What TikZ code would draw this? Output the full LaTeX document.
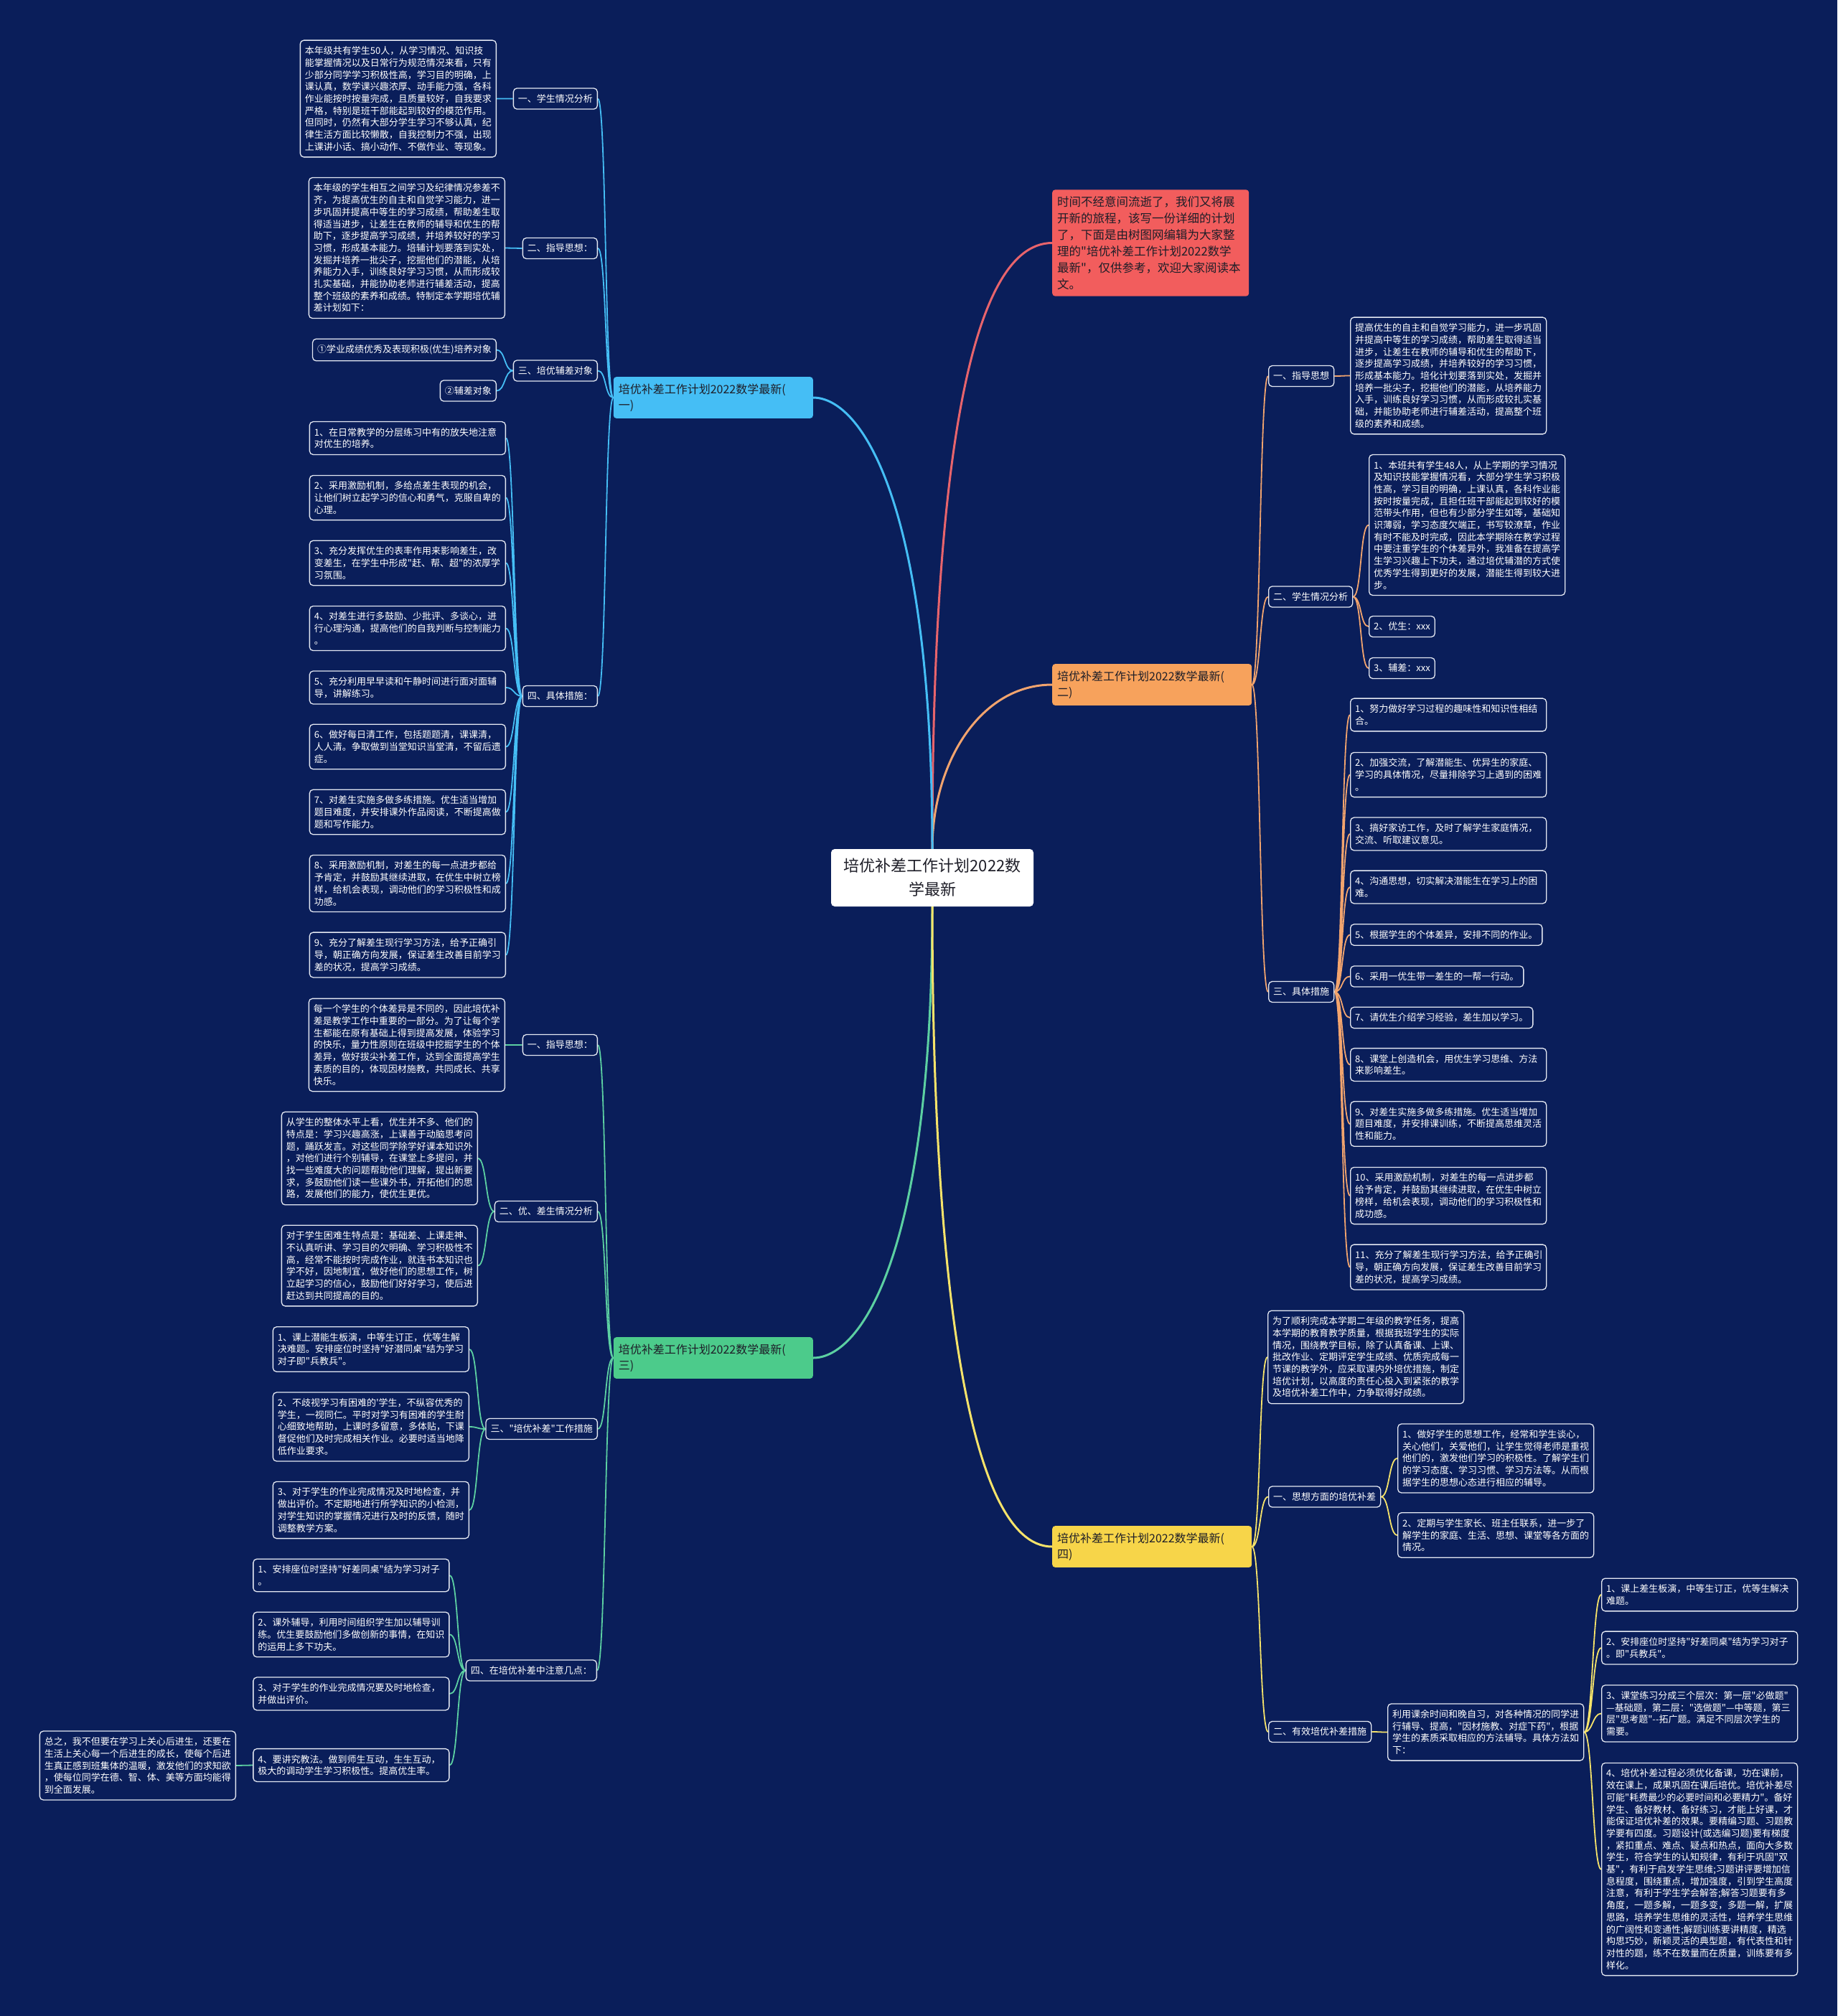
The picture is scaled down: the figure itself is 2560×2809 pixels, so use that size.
\documentclass[tikz,border=0pt]{standalone}
\usepackage{fontspec}
\newfontfamily\cjk{Noto Sans CJK SC}
\usetikzlibrary{backgrounds}
\definecolor{bgnavy}{HTML}{0A1E5A}
\definecolor{edge}{HTML}{E4E8F2}
\definecolor{ink}{HTML}{1E1E28}
\definecolor{cblue}{HTML}{45BEF5}
\definecolor{cred}{HTML}{F25D5D}
\definecolor{lred}{HTML}{E8646C}
\definecolor{corange}{HTML}{F7A25C}
\definecolor{lorange}{HTML}{F2A46E}
\definecolor{cgreen}{HTML}{4CCB8B}
\definecolor{lgreen}{HTML}{5CD0A2}
\definecolor{cyellow}{HTML}{F7D549}
\definecolor{lyellow}{HTML}{F6E36A}
\tikzset{
    tagbox/.style={
        draw=edge, fill=bgnavy, text=white,
        rounded corners=5pt, line width=1.3pt,
        inner xsep=6.5pt, inner ysep=8.5pt,
        font=\cjk\fontsize{13}{16.7}\selectfont,
        align=left
    },
    leafbox/.style={tagbox, text width=#1},
    leafbox/.default=260pt,
    branchbox/.style={
        fill=#1, text=ink,
        rounded corners=4pt,
        inner xsep=7pt, inner ysep=9.5pt,
        text width=264pt,
        font=\cjk\fontsize{16}{22}\selectfont,
        align=left
    },
    notebox/.style={
        fill=cred, text=ink,
        rounded corners=4pt,
        inner xsep=7pt, inner ysep=9pt,
        text width=260pt,
        font=\cjk\fontsize{16.5}{23}\selectfont,
        align=left
    },
    rootbox/.style={
        fill=white, text=ink,
        rounded corners=5pt,
        minimum width=282pt, minimum height=80pt,
        font=\cjk\fontsize{22}{33}\selectfont,
        align=center
    },
    trunk/.style={draw=#1, line width=3pt},
    twig/.style={draw=#1, line width=1.8pt},
    lnkL/.style={to path={.. controls +(-12,0) and +(12,0) .. (\tikztotarget)}},
    lnkR/.style={to path={.. controls +(12,0) and +(-12,0) .. (\tikztotarget)}}
}
\begin{document}
\begin{tikzpicture}[x=1pt, y=-1pt]
\useasboundingbox (0,0) rectangle (2560,2809);
\begin{scope}[on background layer]
\fill[bgnavy] (0,0) rectangle (2560,2809);
\end{scope}

% centre, intro and the four parts
\node[rootbox] (root) at (1299,1223) {培优补差工作计划2022数\\学最新};
\node[notebox, anchor=west] (intro) at (1466,338.5) {时间不经意间流逝了，我们又将展\\开新的旅程，该写一份详细的计划\\了，下面是由树图网编辑为大家整\\理的"培优补差工作计划2022数学\\最新"，仅供参考，欢迎大家阅读本\\文。};
\node[branchbox=cblue, anchor=east] (p1) at (1133,554) {培优补差工作计划2022数学最新(\\一)};
\node[branchbox=corange, anchor=west] (p2) at (1466,954) {培优补差工作计划2022数学最新(\\二)};
\node[branchbox=cgreen, anchor=east] (p3) at (1133,1892) {培优补差工作计划2022数学最新(\\三)};
\node[branchbox=cyellow, anchor=west] (p4) at (1466,2155) {培优补差工作计划2022数学最新(\\四)};

% part one
\node[tagbox, anchor=east] (p1a) at (833,137.5) {一、学生情况分析};
\node[leafbox, anchor=east] (p1a1) at (692,137.5) {本年级共有学生50人，从学习情况、知识技\\能掌握情况以及日常行为规范情况来看，只有\\少部分同学学习积极性高，学习目的明确，上\\课认真，数学课兴趣浓厚、动手能力强，各科\\作业能按时按量完成，且质量较好，自我要求\\严格，特别是班干部能起到较好的模范作用。\\但同时，仍然有大部分学生学习不够认真，纪\\律生活方面比较懒散，自我控制力不强，出现\\上课讲小话、搞小动作、不做作业、等现象。};
\node[tagbox, anchor=east] (p1b) at (833,346) {二、指导思想：};
\node[leafbox, anchor=east] (p1b1) at (704,345.5) {本年级的学生相互之间学习及纪律情况参差不\\齐，为提高优生的自主和自觉学习能力，进一\\步巩固并提高中等生的学习成绩，帮助差生取\\得适当进步，让差生在教师的辅导和优生的帮\\助下，逐步提高学习成绩，并培养较好的学习\\习惯，形成基本能力。培辅计划要落到实处，\\发掘并培养一批尖子，挖掘他们的潜能，从培\\养能力入手，训练良好学习习惯，从而形成较\\扎实基础，并能协助老师进行辅差活动，提高\\整个班级的素养和成绩。特制定本学期培优辅\\差计划如下：};
\node[tagbox, anchor=east] (p1c) at (833,516.5) {三、培优辅差对象};
\node[tagbox, anchor=east] (p1c1) at (692,487.5) {①学业成绩优秀及表现积极(优生)培养对象};
\node[tagbox, anchor=east] (p1c2) at (692,544.5) {②辅差对象};
\node[tagbox, anchor=east] (p1d) at (833,970) {四、具体措施：};
\node[leafbox, anchor=east] (p1d1) at (705,610.5) {1、在日常教学的分层练习中有的放失地注意\\对优生的培养。};
\node[leafbox, anchor=east] (p1d2) at (705,693.5) {2、采用激励机制，多给点差生表现的机会，\\让他们树立起学习的信心和勇气，克服自卑的\\心理。};
\node[leafbox, anchor=east] (p1d3) at (705,784.5) {3、充分发挥优生的表率作用来影响差生，改\\变差生，在学生中形成"赶、帮、超"的浓厚学\\习氛围。};
\node[leafbox, anchor=east] (p1d4) at (705,875.5) {4、对差生进行多鼓励、少批评、多谈心，进\\行心理沟通，提高他们的自我判断与控制能力\\。};
\node[leafbox, anchor=east] (p1d5) at (705,958) {5、充分利用早早读和午静时间进行面对面辅\\导，讲解练习。};
\node[leafbox, anchor=east] (p1d6) at (705,1040.5) {6、做好每日清工作，包括题题清，课课清，\\人人清。争取做到当堂知识当堂清，不留后遗\\症。};
\node[leafbox, anchor=east] (p1d7) at (705,1131.5) {7、对差生实施多做多练措施。优生适当增加\\题目难度，并安排课外作品阅读，不断提高做\\题和写作能力。};
\node[leafbox, anchor=east] (p1d8) at (705,1231) {8、采用激励机制，对差生的每一点进步都给\\予肯定，并鼓励其继续进取，在优生中树立榜\\样，给机会表现，调动他们的学习积极性和成\\功感。};
\node[leafbox, anchor=east] (p1d9) at (705,1330.5) {9、充分了解差生现行学习方法，给予正确引\\导，朝正确方向发展，保证差生改善目前学习\\差的状况，提高学习成绩。};

% part two
\node[tagbox, anchor=west] (p2a) at (1767,524) {一、指导思想};
\node[leafbox, anchor=west] (p2a1) at (1881,523.5) {提高优生的自主和自觉学习能力，进一步巩固\\并提高中等生的学习成绩，帮助差生取得适当\\进步，让差生在教师的辅导和优生的帮助下，\\逐步提高学习成绩，并培养较好的学习习惯，\\形成基本能力。培化计划要落到实处，发掘并\\培养一批尖子，挖掘他们的潜能，从培养能力\\入手，训练良好学习习惯，从而形成较扎实基\\础，并能协助老师进行辅差活动，提高整个班\\级的素养和成绩。};
\node[tagbox, anchor=west] (p2b) at (1767,831.5) {二、学生情况分析};
\node[leafbox, anchor=west] (p2b1) at (1907,731.5) {1、本班共有学生48人，从上学期的学习情况\\及知识技能掌握情况看，大部分学生学习积极\\性高，学习目的明确，上课认真，各科作业能\\按时按量完成，且担任班干部能起到较好的模\\范带头作用，但也有少部分学生如等，基础知\\识薄弱，学习态度欠端正，书写较潦草，作业\\有时不能及时完成，因此本学期除在教学过程\\中要注重学生的个体差异外，我准备在提高学\\生学习兴趣上下功夫，通过培优辅潜的方式使\\优秀学生得到更好的发展，潜能生得到较大进\\步。};
\node[tagbox, anchor=west] (p2b2) at (1907,873) {2、优生：xxx};
\node[tagbox, anchor=west] (p2b3) at (1907,931) {3、辅差：xxx};
\node[tagbox, anchor=west] (p2c) at (1767,1382) {三、具体措施};
\node[leafbox, anchor=west] (p2c1) at (1881,996) {1、努力做好学习过程的趣味性和知识性相结\\合。};
\node[leafbox, anchor=west] (p2c2) at (1881,1079.5) {2、加强交流，了解潜能生、优异生的家庭、\\学习的具体情况，尽量排除学习上遇到的困难\\。};
\node[leafbox, anchor=west] (p2c3) at (1881,1162) {3、搞好家访工作，及时了解学生家庭情况，\\交流、听取建议意见。};
\node[leafbox, anchor=west] (p2c4) at (1881,1236) {4、沟通思想，切实解决潜能生在学习上的困\\难。};
\node[tagbox, anchor=west] (p2c5) at (1881,1302.5) {5、根据学生的个体差异，安排不同的作业。};
\node[tagbox, anchor=west] (p2c6) at (1881,1360.5) {6、采用一优生带一差生的一帮一行动。};
\node[tagbox, anchor=west] (p2c7) at (1881,1418) {7、请优生介绍学习经验，差生加以学习。};
\node[leafbox, anchor=west] (p2c8) at (1881,1483.5) {8、课堂上创造机会，用优生学习思维、方法\\来影响差生。};
\node[leafbox, anchor=west] (p2c9) at (1881,1566) {9、对差生实施多做多练措施。优生适当增加\\题目难度，并安排课训练，不断提高思维灵活\\性和能力。};
\node[leafbox, anchor=west] (p2c10) at (1881,1666) {10、采用激励机制，对差生的每一点进步都\\给予肯定，并鼓励其继续进取，在优生中树立\\榜样，给机会表现，调动他们的学习积极性和\\成功感。};
\node[leafbox, anchor=west] (p2c11) at (1881,1765.5) {11、充分了解差生现行学习方法，给予正确引\\导，朝正确方向发展，保证差生改善目前学习\\差的状况，提高学习成绩。};

% part three
\node[tagbox, anchor=east] (p3a) at (833,1456) {一、指导思想：};
\node[leafbox, anchor=east] (p3a1) at (704,1456) {每一个学生的个体差异是不同的，因此培优补\\差是教学工作中重要的一部分。为了让每个学\\生都能在原有基础上得到提高发展，体验学习\\的快乐，量力性原则在班级中挖掘学生的个体\\差异，做好拔尖补差工作，达到全面提高学生\\素质的目的，体现因材施教，共同成长、共享\\快乐。};
\node[tagbox, anchor=east] (p3b) at (833,1688) {二、优、差生情况分析};
\node[leafbox, anchor=east] (p3b1) at (666,1614) {从学生的整体水平上看，优生并不多、他们的\\特点是：学习兴趣高涨，上课善于动脑思考问\\题，踊跃发言。对这些同学除学好课本知识外\\，对他们进行个别辅导，在课堂上多提问，并\\找一些难度大的问题帮助他们理解，提出新要\\求，多鼓励他们读一些课外书，开拓他们的思\\路，发展他们的能力，使优生更优。};
\node[leafbox, anchor=east] (p3b2) at (666,1763.5) {对于学生困难生特点是：基础差、上课走神、\\不认真听讲、学习目的欠明确、学习积极性不\\高，经常不能按时完成作业，就连书本知识也\\学不好，因地制宜，做好他们的思想工作，树\\立起学习的信心，鼓励他们好好学习，使后进\\赶达到共同提高的目的。};
\node[tagbox, anchor=east] (p3c) at (833,1991) {三、"培优补差"工作措施};
\node[leafbox, anchor=east] (p3c1) at (654,1880) {1、课上潜能生板演，中等生订正，优等生解\\决难题。安排座位时坚持"好潜同桌"结为学习\\对子即"兵教兵"。};
\node[leafbox, anchor=east] (p3c2) at (654,1988) {2、不歧视学习有困难的'学生，不纵容优秀的\\学生，一视同仁。平时对学习有困难的学生耐\\心细致地帮助，上课时多留意，多体贴，下课\\督促他们及时完成相关作业。必要时适当地降\\低作业要求。};
\node[leafbox, anchor=east] (p3c3) at (654,2104) {3、对于学生的作业完成情况及时地检查，并\\做出评价。不定期地进行所学知识的小检测，\\对学生知识的掌握情况进行及时的反馈，随时\\调整教学方案。};
\node[tagbox, anchor=east] (p3d) at (832,2327.5) {四、在培优补差中注意几点：};
\node[leafbox, anchor=east] (p3d1) at (626.5,2195) {1、安排座位时坚持"好差同桌"结为学习对子\\。};
\node[leafbox, anchor=east] (p3d2) at (626.5,2277.5) {2、课外辅导，利用时间组织学生加以辅导训\\练。优生要鼓励他们多做创新的事情，在知识\\的运用上多下功夫。};
\node[leafbox, anchor=east] (p3d3) at (626.5,2360) {3、对于学生的作业完成情况要及时地检查，\\并做出评价。};
\node[leafbox, anchor=east] (p3d4) at (626.5,2459.5) {4、要讲究教法。做到师生互动，生生互动，\\极大的调动学生学习积极性。提高优生率。};
\node[leafbox, anchor=east] (p3e) at (329,2460) {总之，我不但要在学习上关心后进生，还要在\\生活上关心每一个后进生的成长，使每个后进\\生真正感到班集体的温暖，激发他们的求知欲\\，使每位同学在德、智、体、美等方面均能得\\到全面发展。};

% part four
\node[leafbox, anchor=west] (p4a) at (1766,1891) {为了顺利完成本学期二年级的教学任务，提高\\本学期的教育教学质量，根据我班学生的实际\\情况，围绕教学目标，除了认真备课、上课、\\批改作业、定期评定学生成绩、优质完成每一\\节课的教学外，应采取课内外培优措施，制定\\培优计划，以高度的责任心投入到紧张的教学\\及培优补差工作中，力争取得好成绩。};
\node[tagbox, anchor=west] (p4b) at (1767,2085.5) {一、思想方面的培优补差};
\node[leafbox, anchor=west] (p4b1) at (1947,2032) {1、做好学生的思想工作，经常和学生谈心，\\关心他们，关爱他们，让学生觉得老师是重视\\他们的，激发他们学习的积极性。了解学生们\\的学习态度、学习习惯、学习方法等。从而根\\据学生的思想心态进行相应的辅导。};
\node[leafbox, anchor=west] (p4b2) at (1947,2139) {2、定期与学生家长、班主任联系，进一步了\\解学生的家庭、生活、思想、课堂等各方面的\\情况。};
\node[tagbox, anchor=west] (p4c) at (1767,2413) {二、有效培优补差措施};
\node[leafbox, anchor=west] (p4c1) at (1933,2413.5) {利用课余时间和晚自习，对各种情况的同学进\\行辅导、提高，"因材施教、对症下药"，根据\\学生的素质采取相应的方法辅导。具体方法如\\下：};
\node[leafbox, anchor=west] (p4c2) at (2231,2222) {1、课上差生板演，中等生订正，优等生解决\\难题。};
\node[leafbox, anchor=west] (p4c3) at (2231,2296) {2、安排座位时坚持"好差同桌"结为学习对子\\。即"兵教兵"。};
\node[leafbox, anchor=west] (p4c4) at (2231,2387.5) {3、课堂练习分成三个层次：第一层"必做题"\\—基础题，第二层："选做题"—中等题，第三\\层"思考题"--拓广题。满足不同层次学生的\\需要。};
\node[leafbox, anchor=west] (p4c5) at (2231,2604.5) {4、培优补差过程必须优化备课，功在课前，\\效在课上，成果巩固在课后培优。培优补差尽\\可能"耗费最少的必要时间和必要精力"。备好\\学生、备好教材、备好练习，才能上好课，才\\能保证培优补差的效果。要精编习题、习题教\\学要有四度。习题设计(或选编习题)要有梯度\\，紧扣重点、难点、疑点和热点，面向大多数\\学生，符合学生的认知规律，有利于巩固"双\\基"，有利于启发学生思维;习题讲评要增加信\\息程度，围绕重点，增加强度，引到学生高度\\注意，有利于学生学会解答;解答习题要有多\\角度，一题多解，一题多变，多题一解，扩展\\思路，培养学生思维的灵活性，培养学生思维\\的广阔性和变通性;解题训练要讲精度，精选\\构思巧妙，新颖灵活的典型题，有代表性和针\\对性的题，练不在数量而在质量，训练要有多\\样化。};

% connectors
\begin{scope}[on background layer]
\draw[trunk=lred] (root.north) .. controls +(0,-500) and +(-120,0) .. (intro.west);
\draw[trunk=lorange] (root.north) .. controls +(0,-120) and +(-100,0) .. (p2.west);
\draw[trunk=cblue] (root.north) .. controls +(0,-483) and +(67,0) .. (p1.east);
\draw[trunk=lgreen] (root.south) .. controls +(0,483) and +(67,0) .. (p3.east);
\draw[trunk=lyellow] (root.south) .. controls +(0,500) and +(-120,0) .. (p4.west);

\draw[twig=cblue] (p1.west) to[lnkL] (p1a.east) (p1.west) to[lnkL] (p1b.east)
    (p1.west) to[lnkL] (p1c.east) (p1.west) to[lnkL] (p1d.east);
\draw[twig=cblue] (p1a.west) to[lnkL] (p1a1.east) (p1b.west) to[lnkL] (p1b1.east)
    (p1c.west) to[lnkL] (p1c1.east) (p1c.west) to[lnkL] (p1c2.east);
\draw[twig=cblue] (p1d.west) to[lnkL] (p1d1.east) (p1d.west) to[lnkL] (p1d2.east)
    (p1d.west) to[lnkL] (p1d3.east) (p1d.west) to[lnkL] (p1d4.east)
    (p1d.west) to[lnkL] (p1d5.east) (p1d.west) to[lnkL] (p1d6.east)
    (p1d.west) to[lnkL] (p1d7.east) (p1d.west) to[lnkL] (p1d8.east)
    (p1d.west) to[lnkL] (p1d9.east);

\draw[twig=lorange] (p2.east) to[lnkR] (p2a.west) (p2.east) to[lnkR] (p2b.west)
    (p2.east) to[lnkR] (p2c.west);
\draw[twig=lorange] (p2a.east) to[lnkR] (p2a1.west) (p2b.east) to[lnkR] (p2b1.west)
    (p2b.east) to[lnkR] (p2b2.west) (p2b.east) to[lnkR] (p2b3.west);
\draw[twig=lorange] (p2c.east) to[lnkR] (p2c1.west) (p2c.east) to[lnkR] (p2c2.west)
    (p2c.east) to[lnkR] (p2c3.west) (p2c.east) to[lnkR] (p2c4.west)
    (p2c.east) to[lnkR] (p2c5.west) (p2c.east) to[lnkR] (p2c6.west)
    (p2c.east) to[lnkR] (p2c7.west) (p2c.east) to[lnkR] (p2c8.west)
    (p2c.east) to[lnkR] (p2c9.west) (p2c.east) to[lnkR] (p2c10.west)
    (p2c.east) to[lnkR] (p2c11.west);

\draw[twig=lgreen] (p3.west) to[lnkL] (p3a.east) (p3.west) to[lnkL] (p3b.east)
    (p3.west) to[lnkL] (p3c.east) (p3.west) to[lnkL] (p3d.east);
\draw[twig=lgreen] (p3a.west) to[lnkL] (p3a1.east) (p3b.west) to[lnkL] (p3b1.east)
    (p3b.west) to[lnkL] (p3b2.east);
\draw[twig=lgreen] (p3c.west) to[lnkL] (p3c1.east) (p3c.west) to[lnkL] (p3c2.east)
    (p3c.west) to[lnkL] (p3c3.east);
\draw[twig=lgreen] (p3d.west) to[lnkL] (p3d1.east) (p3d.west) to[lnkL] (p3d2.east)
    (p3d.west) to[lnkL] (p3d3.east) (p3d.west) to[lnkL] (p3d4.east)
    (p3d4.west) to[lnkL] (p3e.east);

\draw[twig=lyellow] (p4.east) to[lnkR] (p4a.west) (p4.east) to[lnkR] (p4b.west)
    (p4.east) to[lnkR] (p4c.west);
\draw[twig=lyellow] (p4b.east) to[lnkR] (p4b1.west) (p4b.east) to[lnkR] (p4b2.west)
    (p4c.east) to[lnkR] (p4c1.west);
\draw[twig=lyellow] (p4c1.east) to[lnkR] (p4c2.west) (p4c1.east) to[lnkR] (p4c3.west)
    (p4c1.east) to[lnkR] (p4c4.west) (p4c1.east) to[lnkR] (p4c5.west);
\end{scope}
\end{tikzpicture}
\end{document}
